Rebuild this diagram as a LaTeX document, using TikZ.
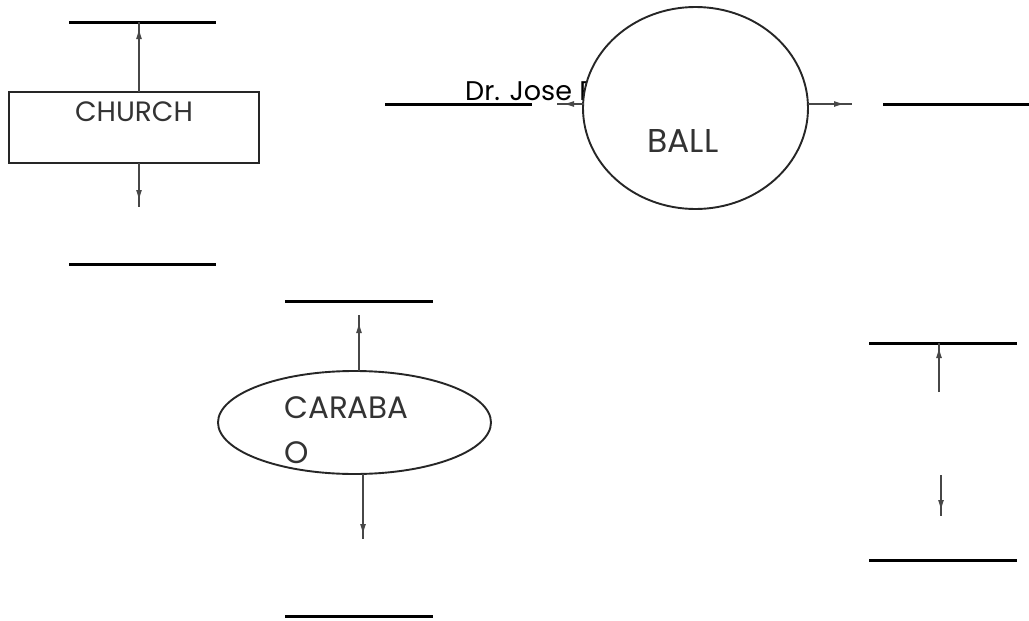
\documentclass[tikz,border=0pt]{standalone}
\usepackage{fontspec}
\setmainfont{Poppins}
\usetikzlibrary{shapes.geometric,arrows.meta,decorations.markings}
\tikzset{
  flowline/.style={line width=3pt, black},
  conn/.style={draw=black!72, line width=1.5pt},
  arrowat/.style={postaction={decorate},decoration={markings,mark=at position #1 with {\arrow{Latex[length=11pt,width=6pt]}}}},
  shapeb/.style={draw=black!85, line width=1.9pt, fill=white, inner sep=0pt},
  lbl/.style={inner sep=0pt, text=black!80},
}
\begin{document}
\begin{tikzpicture}[x=1pt,y=-1pt]
\useasboundingbox (0,0) rectangle (1029,621);
% horizontal flow lines
\coordinate (l1a) at (69,22);   \coordinate (l1b) at (216,22);
\coordinate (l2a) at (69,264);  \coordinate (l2b) at (216,264);
\coordinate (l3a) at (385,104); \coordinate (l3b) at (532,104);
\coordinate (l4a) at (883,104); \coordinate (l4b) at (1029,104);
\coordinate (l5a) at (285,301); \coordinate (l5b) at (433,301);
\coordinate (l6a) at (285,616); \coordinate (l6b) at (433,616);
\coordinate (l7a) at (869,343); \coordinate (l7b) at (1017,343);
\coordinate (l8a) at (869,560); \coordinate (l8b) at (1017,560);
\foreach \a/\b in {l1a/l1b,l2a/l2b,l3a/l3b,l4a/l4b,l5a/l5b,l6a/l6b,l7a/l7b,l8a/l8b}
  \draw[flowline] (\a) -- (\b);
% text behind the circle
\node[lbl, anchor=base west, text=black, font=\fontsize{27}{30}\selectfont] (drjose) at (465,100) {Dr. Jose P. Rizal};
% shapes
\node[shapeb, rectangle, minimum width=250pt, minimum height=71pt] (church) at (134,127.5) {};
\node[shapeb, ellipse, minimum width=225pt, minimum height=202pt] (ball) at (695.5,108) {};
\node[shapeb, ellipse, minimum width=273pt, minimum height=103pt] (carabao) at (354.5,422.5) {};
% labels
\node[lbl, anchor=base, font=\fontsize{28}{30}\selectfont] (tchurch) at (134,121) {CHURCH};
\node[lbl, anchor=base, font=\fontsize{33}{36}\selectfont] (tball) at (683,152) {BALL};
\node[lbl, anchor=base west, font=\fontsize{31}{34}\selectfont] (tcar1) at (284,418) {CARABA};
\node[lbl, anchor=base west, font=\fontsize{31}{34}\selectfont] (tcar2) at (284,463) {O};
% connector end points
\coordinate (c1s) at (139,92);  \coordinate (c1e) at (139,22);
\coordinate (c2s) at (139,163); \coordinate (c2e) at (139,207);
\coordinate (c3s) at (584,104); \coordinate (c3e) at (557,104);
\coordinate (c4s) at (808,104); \coordinate (c4e) at (852,104);
\coordinate (c5s) at (359,371); \coordinate (c5e) at (359,315);
\coordinate (c6s) at (363,474); \coordinate (c6e) at (363,539);
\coordinate (c7s) at (939,392); \coordinate (c7e) at (939,343);
\coordinate (c8s) at (941,475); \coordinate (c8e) at (941,516);
\draw[conn, arrowat=-6pt] (c1s) -- (c1e);
\draw[conn, arrowat=-6pt] (c2s) -- (c2e);
\draw[conn, arrowat=-6pt] (c3s) -- (c3e);
\draw[conn, arrowat=-7pt] (c4s) -- (c4e);
\draw[conn, arrowat=-7pt] (c5s) -- (c5e);
\draw[conn, arrowat=-4pt] (c6s) -- (c6e);
\draw[conn, arrowat=-4pt] (c7s) -- (c7e);
\draw[conn, arrowat=-5pt] (c8s) -- (c8e);
\end{tikzpicture}
\end{document}
